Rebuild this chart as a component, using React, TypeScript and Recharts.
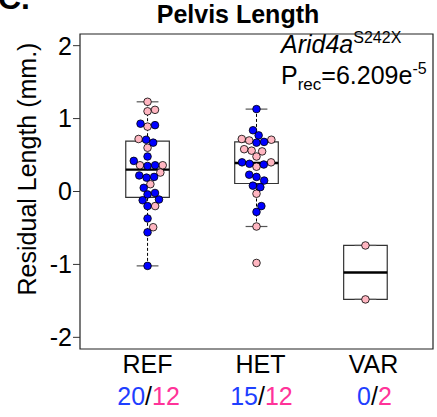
import React from "react";
import {
    ComposedChart,
    XAxis,
    YAxis,
    Scatter,
    ReferenceArea,
    ReferenceLine,
    Customized,
} from "recharts";

// groups along the x axis
const groups = ["REF", "HET", "VAR"];
const blueCounts = [20, 15, 0];
const pinkCounts = [12, 12, 2];

// box statistics: [low whisker, q1, median, q3, high whisker]
const boxLow = [-1.02, -0.48, -1.48];
const boxQ1 = [-0.08, 0.11, -1.48];
const boxMedian = [0.3, 0.39, -1.11];
const boxQ3 = [0.69, 0.68, -0.74];
const boxHigh = [1.23, 1.13, -0.74];

// residuals per group, blue and pink animals
const refBlue = [
    0.93, 0.91, 0.71, 0.67, 0.48, 0.36, 0.35, 0.42, 0.22, 0.19, 0.2, 0.05,
    -0.04, -0.02, -0.12, -0.11, -0.2, -0.37, -0.56, -1.02,
];
const refPink = [
    1.23, 1.1, 1.12, 0.89, 0.72, 0.6, 0.36, 0.36, 0.26, 0.1, -0.2, -0.49,
];
const hetBlue = [
    1.13, 0.84, 0.77, 0.67, 0.68, 0.4, 0.38, 0.37, 0.23, 0.2, 0.15, 0.08, 0.06,
    -0.2, -0.28,
];
const hetPink = [
    0.71, 0.7, 0.72, 0.58, 0.56, 0.55, 0.48, 0.34, 0.4, -0.03, -0.48, -0.98,
];
const varBlue: number[] = [];
const varPink = [-0.74, -1.48];

const yTicks = [-2, -1, 0, 1, 2];

const FONT = "'Liberation Sans', Arial, Helvetica, sans-serif";
const BLUE = "#0000ff";
const PINK = "#ffb6c1";
const TEXT_BLUE = "#1f3fff";
const TEXT_PINK = "#ff3399";

const W = 437;
const H = 417;
const M = { top: 34, right: 4, left: 0, bottom: 0 };
const Y_AXIS_W = 80;
const X_AXIS_H = 68;
const X_DOMAIN: [number, number] = [0.38, 3.62];
const Y_DOMAIN: [number, number] = [-2.16, 2.16];
const DOT_D = 7.6;

const plotW = W - M.left - M.right - Y_AXIS_W;
const plotH = H - M.top - M.bottom - X_AXIS_H;
const pxPerX = plotW / (X_DOMAIN[1] - X_DOMAIN[0]);
const pxPerY = plotH / (Y_DOMAIN[1] - Y_DOMAIN[0]);

// simple beeswarm: place points in ascending order, nearest free slot to the centre
const swarm = (values: number[]) => {
    const order = values.map((_, i) => i).sort((a, b) => values[a] - values[b]);
    const placed: { x: number; y: number }[] = [];
    const out: number[] = new Array(values.length).fill(0);
    order.forEach((i) => {
        const y = values[i] * pxPerY;
        const cands = [0];
        placed.forEach((p) => {
            const dy = Math.abs(p.y - y);
            if (dy < DOT_D) {
                const off = Math.sqrt(DOT_D * DOT_D - dy * dy);
                cands.push(p.x + off, p.x - off);
            }
        });
        cands.sort((a, b) => Math.abs(a) - Math.abs(b));
        const x =
            cands.find((c) =>
                placed.every(
                    (p) => (p.x - c) ** 2 + (p.y - y) ** 2 >= DOT_D * DOT_D - 1e-6
                )
            ) ?? 0;
        placed.push({ x, y });
        out[i] = x;
    });
    return out;
};

const buildPoints = (pos: number, blue: number[], pink: number[]) => {
    const all = [...blue, ...pink];
    const dx = swarm(all);
    const pts = all.map((v, i) => ({ x: pos + dx[i] / pxPerX, y: v }));
    return { blue: pts.slice(0, blue.length), pink: pts.slice(blue.length) };
};

const groupPoints = [
    buildPoints(1, refBlue, refPink),
    buildPoints(2, hetBlue, hetPink),
    buildPoints(3, varBlue, varPink),
];
const bluePoints = groupPoints.flatMap((g) => g.blue);
const pinkPoints = groupPoints.flatMap((g) => g.pink);

const Dot = (fill: string) => (props: any) => (
    <circle
        cx={props.cx}
        cy={props.cy}
        r={DOT_D / 2}
        fill={fill}
        stroke="#000"
        strokeWidth={0.8}
    />
);

const XTick = (props: any) => {
    const { x, y, payload } = props;
    const i = Math.round(payload.value) - 1;
    // the group labels sit slightly right of the boxes in the original
    const dx = i * 4;
    return (
        <g>
            <text x={x + dx} y={y + 16} textAnchor="middle" fontSize={25} fontFamily={FONT} fill="#000">
                {groups[i]}
            </text>
            <text x={x + dx + 1} y={y + 48} textAnchor="middle" fontSize={25} fontFamily={FONT}>
                <tspan fill={TEXT_BLUE}>{blueCounts[i]}</tspan>
                <tspan fill="#000">/</tspan>
                <tspan fill={TEXT_PINK}>{pinkCounts[i]}</tspan>
            </text>
        </g>
    );
};

const Annotations = () => (
    <g fontFamily={FONT}>
        <text x={-2} y={9} fontSize={32} fontWeight="bold" fill="#000">
            C.
        </text>
        <text x={238} y={23} textAnchor="middle" fontSize={25} fontWeight="bold" fill="#000">
            Pelvis Length
        </text>
        <text x={281} y={53} fontSize={25} fill="#000">
            <tspan fontStyle="italic">Arid4a</tspan>
            <tspan fontSize={16} dy={-10}>S242X</tspan>
        </text>
        <text x={281} y={84} fontSize={25} fill="#000">
            <tspan>P</tspan>
            <tspan fontSize={17} dy={6}>rec</tspan>
            <tspan dy={-6}>=6.209e</tspan>
            <tspan fontSize={16} dy={-10}>-5</tspan>
        </text>
        <text
            transform="translate(36,169) rotate(-90)"
            textAnchor="middle"
            fontSize={25}
            fill="#000"
        >
            Residual Length (mm.)
        </text>
    </g>
);

const App: React.FC = () => {
    return (
        <div style={{ position: "absolute", left: 0, top: 0, width: W, height: H, background: "#fff" }}>
            <ComposedChart width={W} height={H} margin={M}>
                <XAxis
                    type="number"
                    dataKey="x"
                    domain={X_DOMAIN}
                    allowDataOverflow
                    ticks={[1, 2, 3]}
                    tick={<XTick />}
                    tickLine={false}
                    axisLine={false}
                    height={X_AXIS_H}
                    interval={0}
                />
                <YAxis
                    type="number"
                    domain={Y_DOMAIN}
                    allowDataOverflow
                    ticks={yTicks}
                    width={Y_AXIS_W}
                    tickSize={7}
                    tickMargin={1}
                    axisLine={false}
                    tickLine={{ stroke: "#333" }}
                    tick={{ fontSize: 25, fill: "#000", fontFamily: FONT }}
                    interval={0}
                />
                <ReferenceArea
                    x1={X_DOMAIN[0]}
                    x2={X_DOMAIN[1]}
                    y1={Y_DOMAIN[0]}
                    y2={Y_DOMAIN[1]}
                    fill="none"
                    stroke="#222"
                    strokeWidth={1.2}
                />
                {groups.map((g, i) => (
                    <ReferenceArea
                        key={`box-${g}`}
                        x1={i + 1 - 0.2}
                        x2={i + 1 + 0.2}
                        y1={boxQ1[i]}
                        y2={boxQ3[i]}
                        fill="#fff"
                        fillOpacity={1}
                        stroke="#333"
                        strokeWidth={1.2}
                    />
                ))}
                {groups.map((g, i) => (
                    <ReferenceLine
                        key={`wu-${g}`}
                        segment={[{ x: i + 1, y: boxQ3[i] }, { x: i + 1, y: boxHigh[i] }]}
                        stroke="#000"
                        strokeDasharray="3 2"
                    />
                ))}
                {groups.map((g, i) => (
                    <ReferenceLine
                        key={`wl-${g}`}
                        segment={[{ x: i + 1, y: boxLow[i] }, { x: i + 1, y: boxQ1[i] }]}
                        stroke="#000"
                        strokeDasharray="3 2"
                    />
                ))}
                {groups.map((g, i) => (
                    <ReferenceLine
                        key={`ch-${g}`}
                        segment={[{ x: i + 0.9, y: boxHigh[i] }, { x: i + 1.1, y: boxHigh[i] }]}
                        stroke="#555"
                        strokeWidth={1.2}
                    />
                ))}
                {groups.map((g, i) => (
                    <ReferenceLine
                        key={`cl-${g}`}
                        segment={[{ x: i + 0.9, y: boxLow[i] }, { x: i + 1.1, y: boxLow[i] }]}
                        stroke="#555"
                        strokeWidth={1.2}
                    />
                ))}
                {groups.map((g, i) => (
                    <ReferenceLine
                        key={`med-${g}`}
                        segment={[{ x: i + 0.8, y: boxMedian[i] }, { x: i + 1.2, y: boxMedian[i] }]}
                        stroke="#000"
                        strokeWidth={2.4}
                    />
                ))}
                <Scatter
                    data={pinkPoints}
                    dataKey="y"
                    shape={Dot(PINK)}
                    isAnimationActive={false}
                />
                <Scatter
                    data={bluePoints}
                    dataKey="y"
                    shape={Dot(BLUE)}
                    isAnimationActive={false}
                />
                <Customized component={Annotations} />
            </ComposedChart>
        </div>
    );
};

export default App;
